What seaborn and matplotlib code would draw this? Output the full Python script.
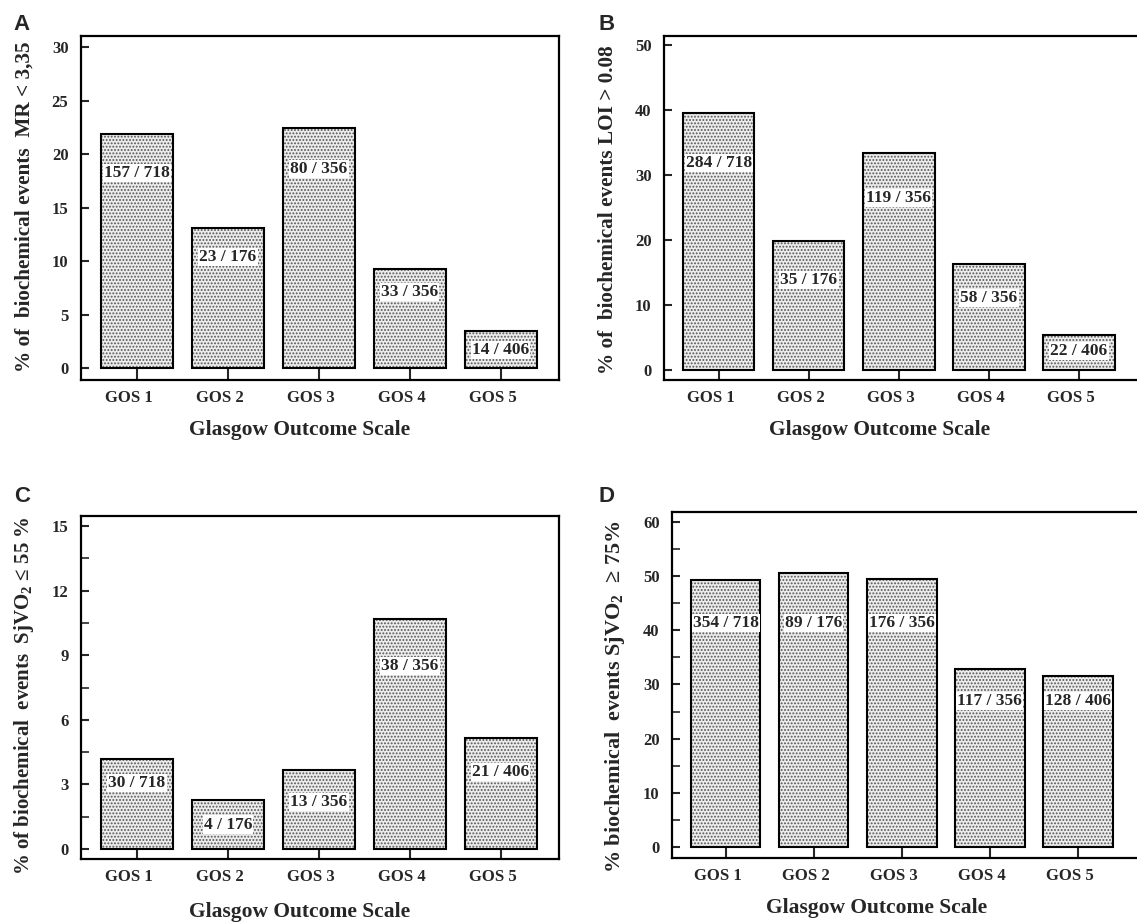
import matplotlib
matplotlib.use("Agg")
import matplotlib.pyplot as plt
import matplotlib.transforms as mtransforms
from matplotlib.ticker import MultipleLocator
from matplotlib.patches import Rectangle
import seaborn as sns

# ---------------- data ----------------
categories = ["GOS 1", "GOS 2", "GOS 3", "GOS 4", "GOS 5"]
totals = [718, 176, 356, 356, 406]
events_mr = [157, 23, 80, 33, 14]            # MR < 3,35
events_loi = [284, 35, 119, 58, 22]          # LOI > 0.08
events_low_sjvo2 = [30, 4, 13, 38, 21]       # SjVO2 <= 55 %
events_high_sjvo2 = [354, 89, 176, 117, 128] # SjVO2 >= 75 %

panel_letters = ["A", "B", "C", "D"]
y_labels = [
    "% of  biochemical events  MR < 3,35",
    "% of  biochemical events LOI > 0.08",
    "% of biochemical  events  SjVO$_\\mathregular{2}$ \u2264 55 %",
    "% biochemical  events SjVO$_\\mathregular{2}$  \u2265 75%",
]
x_label = "Glasgow Outcome Scale"

# ---------------- style ----------------
sns.set_style("ticks")
plt.rcParams["font.family"] = ["Liberation Serif", "DejaVu Serif"]
plt.rcParams["font.weight"] = "bold"
plt.rcParams["mathtext.fontset"] = "custom"
plt.rcParams["mathtext.rm"] = "Liberation Serif:bold"
plt.rcParams["mathtext.bf"] = "Liberation Serif:bold"
plt.rcParams["mathtext.it"] = "Liberation Serif:bold:italic"
plt.rcParams["hatch.linewidth"] = 0.9

W, H = 1137, 922
fig = plt.figure(figsize=(W / 100, H / 100), dpi=100)

def frac_rect(left, top, right, bottom):
    return [left / W, 1 - bottom / H, (right - left) / W, (bottom - top) / H]

panels = [
    dict(events=events_mr, rect=frac_rect(81, 36, 559, 380), xlim=(-0.615, 4.64),
         ylim=(-1.12, 31.03), major=5, minor=None,
         label_y=[18.2, 10.4, 18.6, 7.1, 1.7], ylab_size=15.3,
         ylab_xy=(-0.117, 0.505), xlab_xy=(0.458, -0.145), letter=(13, 30)),
    dict(events=events_loi, rect=frac_rect(664, 36, 1142, 380), xlim=(-0.61, 4.70),
         ylim=(-1.54, 51.4), major=10, minor=None,
         label_y=[31.8, 13.8, 26.4, 11.1, 2.9], ylab_size=15.3,
         ylab_xy=(-0.117, 0.494), xlab_xy=(0.45, -0.145), letter=(599, 30)),
    dict(events=events_low_sjvo2, rect=frac_rect(81, 516, 559, 859), xlim=(-0.615, 4.64),
         ylim=(-0.46, 15.46), major=3, minor=1.5,
         label_y=[3.05, 1.14, 2.2, 8.5, 3.57], ylab_size=15,
         ylab_xy=(-0.119, 0.475), xlab_xy=(0.458, -0.155), letter=(14, 502)),
    dict(events=events_high_sjvo2, rect=frac_rect(672, 512, 1150, 858), xlim=(-0.61, 4.82),
         ylim=(-2.0, 61.8), major=10, minor=5,
         label_y=[41.3, 41.3, 41.3, 27.0, 27.0], ylab_size=16,
         ylab_xy=(-0.119, 0.465), xlab_xy=(0.427, -0.145), letter=(599, 502)),
]

shift = mtransforms.ScaledTranslation(-8 / 100, 0, fig.dpi_scale_trans)

for i, p in enumerate(panels):
    ax = fig.add_axes(p["rect"])
    pct = [100.0 * e / t for e, t in zip(p["events"], totals)]
    sns.barplot(x=categories, y=pct, ax=ax, width=0.79, color="#ececec",
                saturation=1, edgecolor="#555555", linewidth=0, hatch=".....",
                errorbar=None)
    # black outlines on top of the stippled bars
    for bar in list(ax.patches):
        ax.add_patch(Rectangle(bar.get_xy(), bar.get_width(), bar.get_height(),
                               fill=False, edgecolor="black", linewidth=1.5, zorder=3))
    # counts inside bars
    for xi, (e, t, ly) in enumerate(zip(p["events"], totals, p["label_y"])):
        ax.text(xi, ly, f"{e} / {t}", ha="center", va="center", fontsize=12.5,
                fontweight="bold", zorder=4,
                bbox=dict(facecolor="white", edgecolor="none", pad=0.8))

    ax.set_xlim(*p["xlim"])
    ax.set_ylim(*p["ylim"])
    ax.yaxis.set_major_locator(MultipleLocator(p["major"]))
    if p["minor"]:
        ax.yaxis.set_minor_locator(MultipleLocator(p["minor"]))
    ax.set_xticks(range(len(categories)))
    ax.set_xticklabels(categories)

    for side in ["top", "bottom", "left", "right"]:
        ax.spines[side].set_visible(True)
        ax.spines[side].set_linewidth(1.6)
        ax.spines[side].set_color("black")
    ax.tick_params(axis="y", which="major", direction="in", length=6, width=1.5,
                   labelsize=12, pad=9)
    ax.tick_params(axis="y", which="minor", direction="in", length=6, width=1.2)
    ax.tick_params(axis="x", which="major", direction="in", length=8.5, width=1.5,
                   labelsize=12, pad=7)
    ax.tick_params(top=False, right=False, which="both")
    for lab in ax.get_xticklabels():
        lab.set_transform(lab.get_transform() + shift)

    ax.set_ylabel(y_labels[i], fontsize=p["ylab_size"], fontweight="bold")
    ax.yaxis.label.set_verticalalignment("center")
    ax.yaxis.set_label_coords(*p["ylab_xy"])
    ax.set_xlabel(x_label, fontsize=15.5, fontweight="bold")
    ax.xaxis.label.set_verticalalignment("center")
    ax.xaxis.set_label_coords(*p["xlab_xy"])

    lx, ly = p["letter"]
    fig.text(lx / W, 1 - ly / H, panel_letters[i], fontsize=16, fontweight="bold",
             family=["Liberation Sans", "DejaVu Sans"], ha="left", va="baseline")

fig.savefig("out.png", dpi=100, facecolor="white")
